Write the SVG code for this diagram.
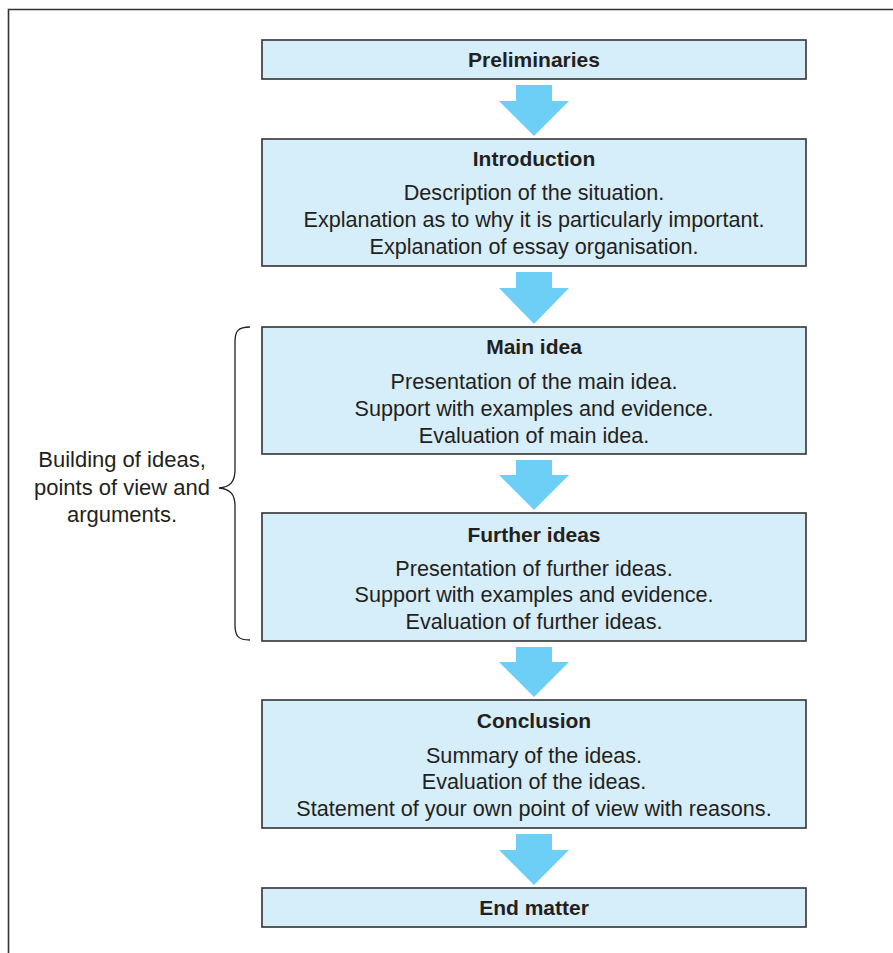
<svg xmlns="http://www.w3.org/2000/svg" width="893" height="953" viewBox="0 0 893 953">
  <style>
    .box { fill: #d6edfa; stroke: #333333; stroke-width: 1.6; }
    .arrow { fill: #6dcff6; }
    text { font-family: "Liberation Sans", Arial, Helvetica, sans-serif; fill: #231f20; text-anchor: middle; }
    .title { font-size: 21px; font-weight: bold; }
    .body { font-size: 21.6px; }
    .label { font-size: 22px; }
    .brace { fill: none; stroke: #231f20; stroke-width: 1.3; }
  </style>
  <rect width="893" height="953" fill="#ffffff"/>
  <!-- outer frame (top and left rules) -->
  <path d="M8.5 953 V9.5 H893" fill="none" stroke="#333333" stroke-width="1.6"/>

  <g id="preliminaries">
    <rect class="box" x="262" y="40" width="544" height="39"/>
    <text class="title" x="534" y="67">Preliminaries</text>
  </g>

  <g id="introduction">
    <rect class="box" x="262" y="139" width="544" height="127"/>
    <text class="title" x="534" y="166">Introduction</text>
    <text class="body" x="534" y="200">Description of the situation.</text>
    <text class="body" x="534" y="227">Explanation as to why it is particularly important.</text>
    <text class="body" x="534" y="254">Explanation of essay organisation.</text>
  </g>

  <g id="main-idea">
    <rect class="box" x="262" y="327" width="544" height="127"/>
    <text class="title" x="534" y="354">Main idea</text>
    <text class="body" x="534" y="389">Presentation of the main idea.</text>
    <text class="body" x="534" y="416">Support with examples and evidence.</text>
    <text class="body" x="534" y="443">Evaluation of main idea.</text>
  </g>

  <g id="further-ideas">
    <rect class="box" x="262" y="513" width="544" height="128"/>
    <text class="title" x="534" y="542">Further ideas</text>
    <text class="body" x="534" y="576">Presentation of further ideas.</text>
    <text class="body" x="534" y="602">Support with examples and evidence.</text>
    <text class="body" x="534" y="629">Evaluation of further ideas.</text>
  </g>

  <g id="conclusion">
    <rect class="box" x="262" y="700" width="544" height="128"/>
    <text class="title" x="534" y="728">Conclusion</text>
    <text class="body" x="534" y="763">Summary of the ideas.</text>
    <text class="body" x="534" y="789">Evaluation of the ideas.</text>
    <text class="body" x="534" y="816">Statement of your own point of view with reasons.</text>
  </g>

  <g id="end-matter">
    <rect class="box" x="262" y="888" width="544" height="39"/>
    <text class="title" x="534" y="915">End matter</text>
  </g>

  <g id="building-label">
    <path class="brace" d="M250 327 C238 327 235 331 235 342 V470 C235 482 230 487 219 488 C230 489 235 494 235 506 V625 C235 636 238 640 250 640"/>
    <text class="label" x="122" y="467">Building of ideas,</text>
    <text class="label" x="122" y="495">points of view and</text>
    <text class="label" x="122" y="522">arguments.</text>
  </g>

  <g id="connectors">
    <polygon class="arrow" points="516,85 552,85 552,101 569,101 534,136 499,101 516,101"/>
    <polygon class="arrow" points="516,272 552,272 552,288 569,288 534,324 499,288 516,288"/>
    <polygon class="arrow" points="516,460 552,460 552,475 569,475 534,510 499,475 516,475"/>
    <polygon class="arrow" points="516,647 552,647 552,662 569,662 534,697 499,662 516,662"/>
    <polygon class="arrow" points="516,834 552,834 552,850 569,850 534,885 499,850 516,850"/>
  </g>
</svg>
